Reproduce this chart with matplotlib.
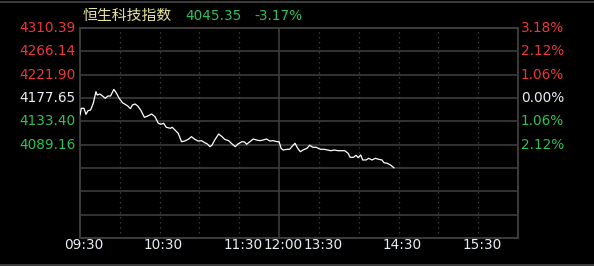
import matplotlib
matplotlib.use("Agg")
from matplotlib import pyplot as plt
from matplotlib.lines import Line2D

# Hang Seng TECH intraday, minutes since 09:30 in trading time (lunch break removed)
minutes = [0, 1, 3, 4.5, 6, 8, 10, 12, 13, 15, 17, 19, 21, 23, 25.5, 27.5, 29.5,
           32, 34, 36, 38, 39.5, 41.5, 43.5, 46, 48.5, 51, 54, 56.5, 59, 61, 63,
           65, 68, 69.5, 71.5, 74, 76.5, 79, 81.5, 84, 86.5, 89, 91.5, 94, 96, 98,
           99.5, 101.5, 104.5, 107, 109, 112, 114, 117, 119, 122, 124, 125.5, 128,
           130.5, 133, 135.5, 138, 140.5, 143, 145.5, 148.5, 150, 151.5, 153, 156,
           158, 160, 162, 164, 166, 168, 171, 173, 175.5, 178, 181, 184, 186.5, 189,
           191.5, 194.5, 199.5, 202, 203.5, 206, 208, 209.5, 211.5, 213, 215.5,
           217.5, 220, 222.5, 225, 227.5, 229, 231.5, 234, 236.5]
prices = [4145.4, 4158.1, 4158.1, 4146.7, 4153.6, 4154.9, 4167.6, 4189.6, 4183.3,
          4185.2, 4181.4, 4177.1, 4181.4, 4181.4, 4194.1, 4186.6, 4177.1, 4168.7,
          4165.7, 4162.5, 4157.4, 4164.4, 4166.3, 4162.5, 4153.6, 4141.0, 4143.5,
          4147.3, 4142.2, 4129.7, 4127.8, 4129.7, 4122.1, 4120.2, 4122.1, 4117.0,
          4110.7, 4094.8, 4096.1, 4099.3, 4104.3, 4099.3, 4096.1, 4096.7, 4092.9,
          4090.4, 4085.3, 4088.5, 4098.0, 4109.4, 4104.3, 4099.3, 4096.7, 4091.8,
          4085.3, 4090.4, 4094.8, 4094.2, 4089.9, 4094.8, 4099.9, 4098.0, 4096.7,
          4098.0, 4099.9, 4096.1, 4096.7, 4094.8, 4094.8, 4082.3, 4079.0, 4080.4,
          4080.4, 4086.6, 4091.7, 4082.3, 4075.8, 4079.0, 4082.3, 4088.0, 4084.2,
          4084.2, 4080.4, 4080.4, 4079.0, 4077.7, 4079.0, 4077.7, 4077.7, 4072.8,
          4065.2, 4065.2, 4069.0, 4064.5, 4069.6, 4060.1, 4060.1, 4063.3, 4060.1,
          4063.3, 4061.4, 4060.1, 4055.0, 4053.8, 4050.6, 4045.35]

prev_close = 4177.65
step = 44.245
price_labels = ["4310.39", "4266.14", "4221.90", "4177.65", "4133.40", "4089.16"]
pct_labels = ["3.18%", "2.12%", "1.06%", "0.00%", "1.06%", "2.12%"]
time_labels = ["09:30", "10:30", "11:30", "12:00", "13:30", "14:30", "15:30"]
time_ticks = [0, 60, 120, 150, 180, 240, 300]
title_name = "恒生科技指数"
title_price = "4045.35"
title_change = "-3.17%"

RED = "#e8383d"
GREEN = "#2fc05a"
WHITE = "#e8eef4"
GRID = "#3c3c3c"
DOT = "#4a4a4a"
FS = 9.8

plt.rcParams["font.family"] = ["DejaVu Sans"]

fig = plt.figure(figsize=(5.94, 2.66), dpi=100, facecolor="black")
W, H = 594, 266
ax = fig.add_axes([80 / W, 1 - 238 / H, 438 / W, 210 / H], facecolor="black")

ax.set_xlim(0, 330)
ax.set_ylim(prev_close - 6 * step, prev_close + 3 * step)

# horizontal grid
for i in range(-6, 4):
    ax.axhline(prev_close + i * step, color=GRID, lw=1.2, zorder=1)
# vertical dotted every 30 min, solid at lunch break
for m in range(30, 330, 30):
    if m == 150:
        continue
    ax.axvline(m, color=DOT, lw=0.9, ls=(0, (1, 3)), zorder=1)
ax.axvline(150, color=GRID, lw=1.2, zorder=1)

for s in ax.spines.values():
    s.set_color(GRID)
    s.set_linewidth(1.4)

ax.plot(minutes, prices, color="white", lw=0.9, zorder=3)

ax.set_xticks([])
ax.set_yticks([])

# left / right labels
colors = [RED, RED, RED, WHITE, GREEN, GREEN]
for i, (pl, pc, c) in enumerate(zip(price_labels, pct_labels, colors)):
    y = prev_close + (3 - i) * step
    ax.text(-4 / 438 * 330, y, pl, color=c, fontsize=FS, ha="right", va="center")
    ax.text(332, y, pc, color=c, fontsize=FS, ha="left", va="center")

for t, lab in zip(time_ticks, time_labels):
    ax.text(t + 3, prev_close - 6 * step - 12.5, lab, color=WHITE, fontsize=FS,
            ha="center", va="center")

# title line
fig.text(83 / W, 1 - 15.5 / H, title_name, color="#e8e49a", fontsize=10.7,
         ha="left", va="center", family=["Noto Sans CJK SC", "DejaVu Sans"])
fig.text(185 / W, 1 - 15.5 / H, title_price, color=GREEN, fontsize=FS,
         ha="left", va="center")
fig.text(254 / W, 1 - 15.5 / H, title_change, color=GREEN, fontsize=FS,
         ha="left", va="center")

# frame lines across full width
fig.add_artist(Line2D([0, 1], [1 - 1.5 / H, 1 - 1.5 / H], color=GRID, lw=1.4))
fig.add_artist(Line2D([0, 1], [1 - 264.5 / H, 1 - 264.5 / H], color=GRID, lw=1.4))

fig.savefig("out.png", dpi=100, facecolor="black")
